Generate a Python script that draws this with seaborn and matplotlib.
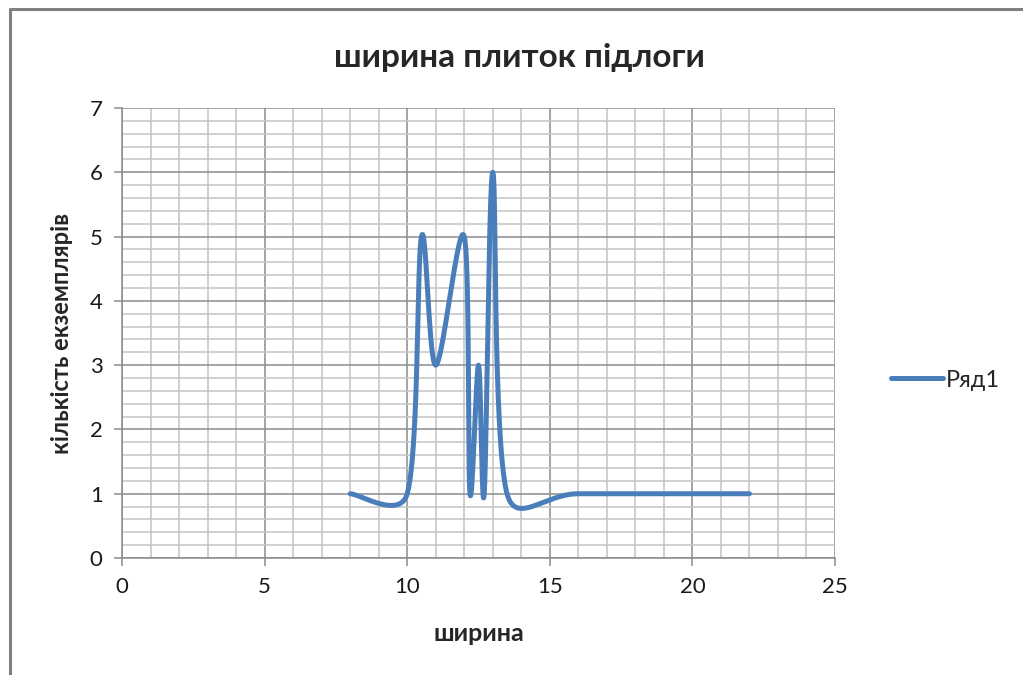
import numpy as np
import matplotlib
matplotlib.use("Agg")
import matplotlib.pyplot as plt
import seaborn as sns
from matplotlib.lines import Line2D
from matplotlib.ticker import MultipleLocator

sns.set_theme(style="white")
plt.rcParams['font.family'] = ['Lato', 'DejaVu Sans']

width = [8, 10, 10.5, 11, 12, 12.2, 12.5, 12.7, 13, 13.5, 16, 22]
count = [1, 1, 5, 3, 5, 1, 3, 1, 6, 1, 1, 1]
series_name = "Ряд1"
title = "ширина плиток підлоги"
x_label = "ширина"
y_label = "кількість екземплярів"

blue = "#4A7EBB"
major_col = "#8c8c8c"
minor_col = "#c4c4c4"


def smooth(xv, yv, sx, sy, k=1 / 6, clamp=0.48, n=80):
    # excel-like smoothed line, worked out in screen units (sx, sy px per unit)
    p = np.column_stack([np.asarray(xv) * sx, np.asarray(yv) * sy]).astype(float)
    pad = np.vstack([p[0], p, p[-1]])
    out = []
    for i in range(len(p) - 1):
        p0, p3 = p[i], p[i + 1]
        seg_len = np.hypot(*(p3 - p0))
        h1 = (pad[i + 2] - pad[i]) * k
        h2 = (pad[i + 3] - pad[i + 1]) * k
        for h in (h1, h2):
            ln = np.hypot(*h)
            if ln > clamp * seg_len:
                h *= clamp * seg_len / ln
        p1 = p0 + h1
        p2 = p3 - h2
        t = np.linspace(0, 1, n)[:, None]
        seg = ((1 - t) ** 3) * p0 + 3 * ((1 - t) ** 2) * t * p1 + 3 * (1 - t) * t ** 2 * p2 + t ** 3 * p3
        out.append(seg if i == 0 else seg[1:])
    out = np.vstack(out)
    return out[:, 0] / sx, out[:, 1] / sy


fig = plt.figure(figsize=(10.23, 6.75), dpi=100)
ax = fig.add_axes([0.1193, 0.1733, 0.6969, 0.6667])
ax.set_xlim(0, 25)
ax.set_ylim(0, 7)

px_x = 0.6969 * 1023 / 25
px_y = 0.6667 * 675 / 7
xs, ys = smooth(width, count, px_x, px_y)
sns.lineplot(x=xs, y=ys, sort=False, estimator=None, color=blue,
             linewidth=3.6, ax=ax, legend=False)

ax.set_xlim(0, 25)
ax.set_ylim(0, 7)
ax.xaxis.set_major_locator(MultipleLocator(5))
ax.xaxis.set_minor_locator(MultipleLocator(1))
ax.yaxis.set_major_locator(MultipleLocator(1))
ax.yaxis.set_minor_locator(MultipleLocator(0.2))
ax.grid(which="major", color=major_col, linewidth=1.1)
ax.grid(which="minor", color=minor_col, linewidth=1.1)
ax.set_axisbelow(True)
for s in ["top", "right"]:
    ax.spines[s].set_visible(False)
for s in ["left", "bottom"]:
    ax.spines[s].set_color(major_col)
    ax.spines[s].set_linewidth(1.1)
ax.tick_params(which="major", direction="out", length=6, width=1.1, color=major_col,
               labelsize=16, labelcolor="#1a1a1a", pad=8, left=True, bottom=True)
ax.tick_params(which="minor", length=0)

ax.set_xlabel(x_label, fontsize=18, fontweight="bold", labelpad=18)
ax.set_ylabel(y_label, fontsize=17, fontweight="bold", labelpad=12)
fig.suptitle(title, x=0.508, y=0.915, va="center", fontsize=24, fontweight="bold")

handle = Line2D([], [], color=blue, linewidth=3.6)
fig.legend([handle], [series_name], loc="center left", bbox_to_anchor=(0.85, 0.437),
           frameon=False, fontsize=17, handlelength=2.2, handletextpad=0.15)

# outer chart frame (left and top edges)
fig.add_artist(Line2D([0.0098, 0.0098], [0, 0.987], color="#808080", linewidth=2.2))
fig.add_artist(Line2D([0.0098, 1], [0.987, 0.987], color="#808080", linewidth=2.2))

fig.savefig("out.png", dpi=100)
